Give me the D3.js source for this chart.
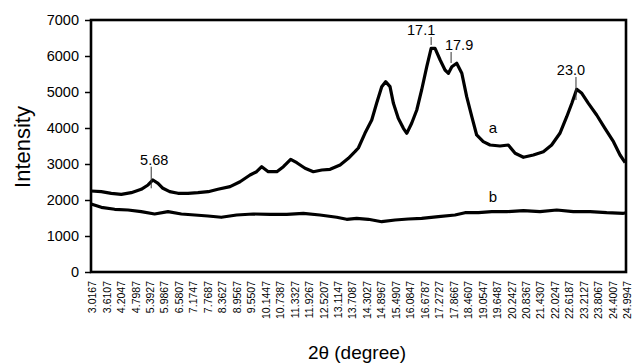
<!DOCTYPE html>
<html><head><meta charset="utf-8">
<script src="https://cdn.jsdelivr.net/npm/d3@7"></script>
<style>body{margin:0;background:#fff;overflow:hidden} text{font-family:Arial,"Liberation Sans",sans-serif;fill:#000}</style>
</head><body><svg id="c" width="632" height="363"></svg>
<script>
const xTickLabels = ["3.0167","3.6107","4.2047","4.7987","5.3927","5.9867","6.5807","7.1747","7.7687","8.3627","8.9567","9.5507","10.1447","10.7387","11.3327","11.9267","12.5207","13.1147","13.7087","14.3027","14.8967","15.4907","16.0847","16.6787","17.2727","17.8667","18.4607","19.0547","19.6487","20.2427","20.8367","21.4307","22.0247","22.6187","23.2127","23.8067","24.4007","24.9947"];
const yTickValues = [0,1000,2000,3000,4000,5000,6000,7000];

const seriesATheta = [3.02,3.44,3.85,4.26,4.67,5.08,5.36,5.56,5.77,5.97,6.25,6.59,7.00,7.41,7.83,8.23,8.73,9.14,9.55,9.82,10.03,10.30,10.65,10.92,11.22,11.47,11.81,12.15,12.50,12.84,13.25,13.59,13.86,14.00,14.27,14.55,14.75,14.96,15.12,15.30,15.44,15.64,15.85,15.99,16.19,16.40,16.60,16.81,16.99,17.15,17.36,17.56,17.70,17.84,18.04,18.25,18.45,18.66,18.86,19.13,19.41,19.82,20.16,20.44,20.78,21.19,21.60,21.94,22.28,22.56,22.77,22.97,23.18,23.45,23.79,24.13,24.48,24.75,24.96];
const seriesAIntensity = [2250,2231,2186,2158,2203,2297,2417,2556,2464,2325,2231,2186,2186,2203,2231,2297,2370,2508,2695,2786,2925,2786,2786,2925,3131,3036,2881,2786,2834,2853,2972,3159,3342,3445,3853,4223,4686,5148,5287,5148,4686,4270,3992,3853,4131,4500,5056,5703,6214,6214,5889,5611,5520,5703,5798,5520,4870,4314,3806,3620,3528,3500,3528,3297,3186,3250,3342,3528,3853,4314,4686,5075,4964,4686,4361,3992,3620,3250,3036];

const seriesBTheta = [3.02,3.44,3.99,4.54,5.08,5.63,6.18,6.73,7.28,7.82,8.37,9.00,9.68,10.37,11.06,11.74,12.42,13.11,13.52,13.93,14.41,14.96,15.51,16.05,16.60,17.29,17.97,18.38,18.93,19.48,20.10,20.78,21.46,22.15,22.83,23.52,24.20,24.89,24.99];
const seriesBIntensity = [1889,1797,1742,1722,1675,1611,1675,1611,1583,1556,1520,1583,1611,1603,1603,1631,1583,1520,1464,1492,1464,1397,1445,1472,1492,1536,1583,1647,1647,1675,1675,1703,1675,1722,1675,1675,1647,1631,1640];

const peakLabels = ["5.68","17.1","17.9","23.0"];
const peakTheta = [5.49,16.99,17.81,22.94];
const peakTop = [2925,6528,6111,5417];
const peakBottom = [2325,6306,5806,4778];

const seriesNames = ["a","b"];
const seriesNameTheta = [19.53,19.53];
const seriesNameIntensity = [3861,1944];

const svg = d3.select("#c");
const L = 91, R = 626, T = 20, B = 272;
const x = d3.scaleLinear().domain([+xTickLabels[0], +xTickLabels[xTickLabels.length-1]]).range([L, R]);
const y = d3.scaleLinear().domain([0, 7000]).range([B, T]);

// y axis
const ya = svg.append("g").attr("transform", `translate(${L},0)`)
  .call(d3.axisLeft(y).tickValues(yTickValues).tickSize(6).tickPadding(6).tickFormat(d3.format("d")));
ya.select(".domain").remove();
ya.selectAll(".tick line").attr("stroke", "#000").attr("stroke-width", 1.5);
ya.selectAll(".tick text").attr("font-size", 14.5).attr("font-family", "Arial, 'Liberation Sans', sans-serif");

// x axis
const xa = svg.append("g").attr("transform", `translate(0,${B})`)
  .call(d3.axisBottom(x).tickValues(xTickLabels.map(Number)).tickSize(0).tickFormat((d, i) => xTickLabels[i]));
xa.select(".domain").remove();
xa.selectAll(".tick text")
  .attr("font-size", 10.5).attr("font-family", "Arial, 'Liberation Sans', sans-serif")
  .attr("text-anchor", "end")
  .attr("transform", "rotate(-90)")
  .attr("x", -9).attr("y", 1).attr("dy", "0.35em");

// frame
svg.append("rect").attr("x", L).attr("y", T).attr("width", R - L).attr("height", B - T)
  .attr("fill", "none").attr("stroke", "#000").attr("stroke-width", 2.6);

// lines
const line = d3.line().x(d => x(d[0])).y(d => y(d[1]));
const dataA = seriesATheta.map((t, i) => [t, seriesAIntensity[i]]);
const dataB = seriesBTheta.map((t, i) => [t, seriesBIntensity[i]]);
[dataA, dataB].forEach(d => {
  svg.append("path").datum(d).attr("d", line).attr("fill", "none")
    .attr("stroke", "#000").attr("stroke-width", 3.2).attr("stroke-linejoin", "round");
});

// peak annotations
const labelDx = [3, -10, 8, -5];
peakLabels.forEach((lab, i) => {
  svg.append("line").attr("x1", x(peakTheta[i])).attr("x2", x(peakTheta[i]))
    .attr("y1", y(peakTop[i])).attr("y2", y(peakBottom[i])).attr("stroke", "#333").attr("stroke-width", 1);
  svg.append("text").attr("x", x(peakTheta[i]) + labelDx[i]).attr("y", y(peakTop[i]) - 2)
    .attr("text-anchor", "middle").attr("font-size", 14.5).text(lab);
});

// series names
seriesNames.forEach((n, i) => {
  svg.append("text").attr("x", x(seriesNameTheta[i])).attr("y", y(seriesNameIntensity[i]))
    .attr("text-anchor", "middle").attr("font-size", 15).text(n);
});

// axis titles
svg.append("text").attr("transform", "translate(30,147) rotate(-90)")
  .attr("text-anchor", "middle").attr("font-size", 22).text("Intensity");
svg.append("text").attr("x", 357).attr("y", 359)
  .attr("text-anchor", "middle").attr("font-size", 19).text("2θ (degree)");
</script>
</body></html>
